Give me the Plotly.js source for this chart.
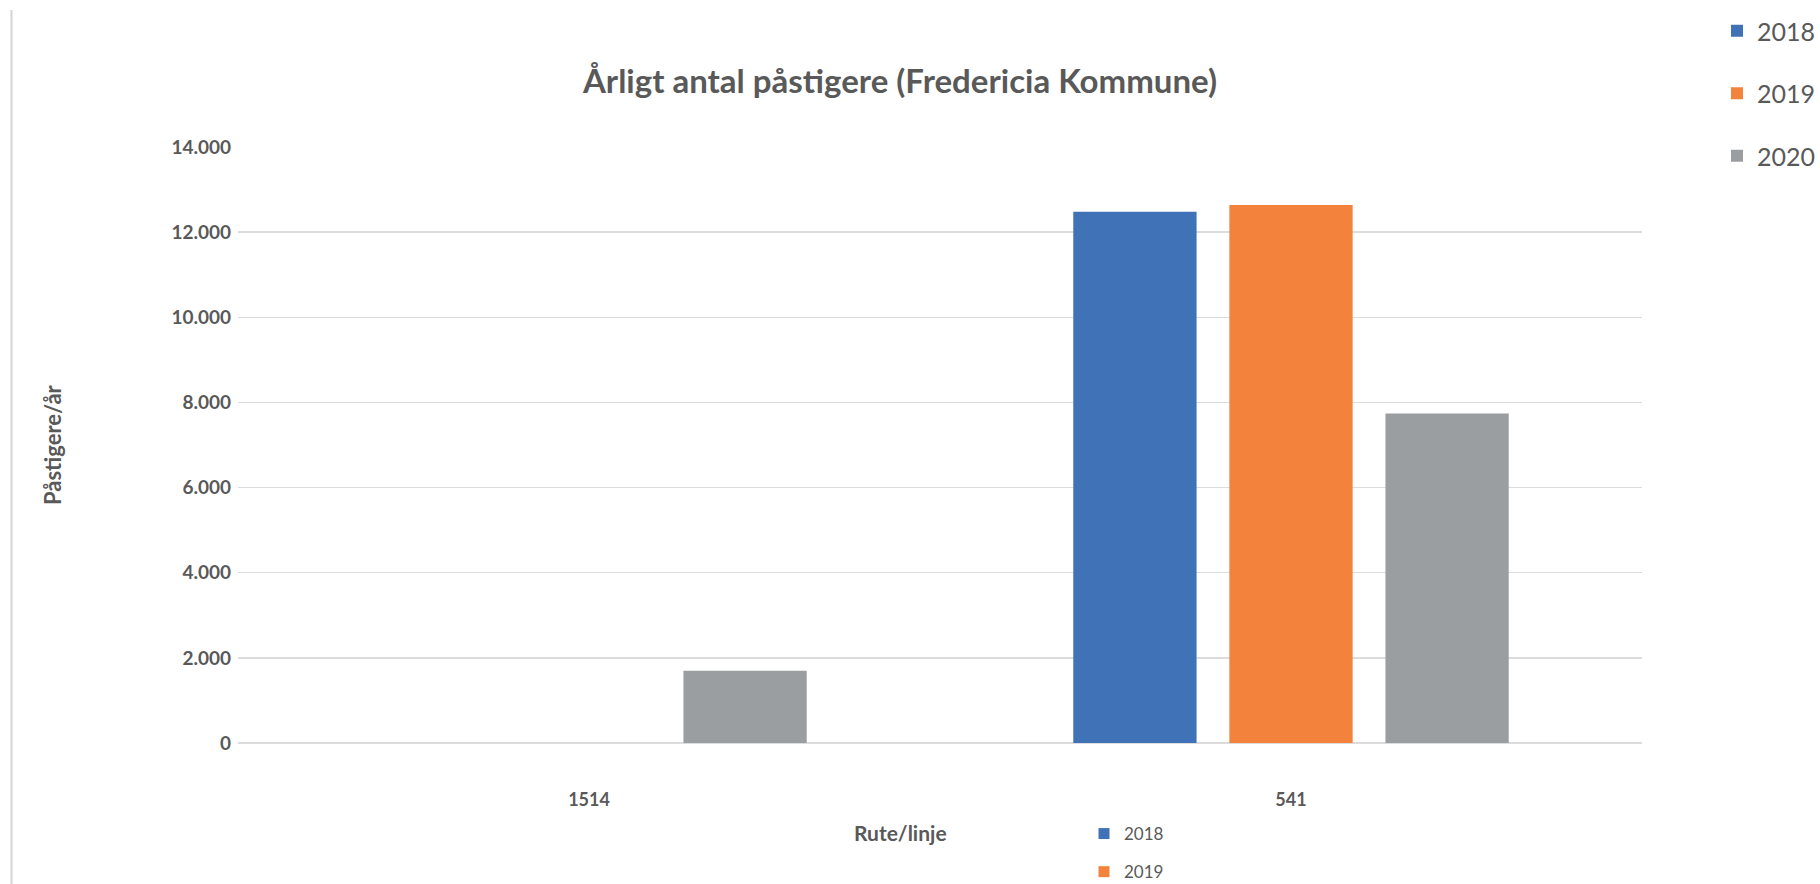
<!DOCTYPE html>
<html>
<head>
<meta charset="utf-8">
<script src="https://cdn.plot.ly/plotly-3.0.1.min.js"></script>
<style>html,body{margin:0;padding:0;background:#fff;}#chart{width:1820px;height:884px;}</style>
</head>
<body>
<div id="chart"></div>
<script>
const routes = ['1514', '541'];
const years = ['2018', '2019', '2020'];
const values2018 = [null, 12480];
const values2019 = [null, 12640];
const values2020 = [1700, 7740];
const colors = ['#4072b8', '#f2823c', '#9b9ea0'];
const seriesValues = [values2018, values2019, values2020];

const txt = '#595959';
const fontFam = 'Lato, "Open Sans", sans-serif';

const traces = years.map((yr, i) => ({
  type: 'bar',
  name: yr,
  x: routes,
  y: seriesValues[i],
  marker: {color: colors[i]},
  legendgroup: 'g' + yr,
  hoverinfo: 'x+y+name'
}));

// second (lower) legend, as seen in the picture: 2018 and 2019
const legend2Traces = years.slice(0, 2).map((yr, i) => ({
  type: 'scatter',
  mode: 'markers',
  name: yr,
  x: [null],
  y: [null],
  marker: {color: colors[i], symbol: 'square', size: 11},
  legend: 'legend2',
  legendgroup: 'h' + yr,
  hoverinfo: 'skip'
}));

const layout = {
  width: 1820,
  height: 884,
  paper_bgcolor: '#ffffff',
  plot_bgcolor: '#ffffff',
  separators: ',.',
  margin: {l: 238, r: 178, t: 147, b: 141, autoexpand: false},
  font: {family: fontFam, color: txt},
  title: {
    text: 'Årligt antal påstigere (Fredericia Kommune)',
    font: {family: fontFam, size: 33, color: txt, weight: 'bold'},
    x: 0.4945, xanchor: 'center', xref: 'container',
    y: 1 - 81 / 884, yanchor: 'middle', yref: 'container'
  },
  barmode: 'group',
  bargap: 0.333,
  bargroupgap: 0.21,
  xaxis: {
    type: 'category',
    showgrid: false,
    zeroline: false,
    showline: false,
    ticks: '',
    tickfont: {family: fontFam, size: 18, color: txt, weight: 'bold'},
    ticklabelstandoff: 44
  },
  yaxis: {
    range: [0, 14000],
    dtick: 2000,
    tickformat: ',d',
    showgrid: true,
    gridcolor: '#dcdcdc',
    gridwidth: 1.5,
    zeroline: true,
    zerolinecolor: '#dcdcdc',
    zerolinewidth: 1.5,
    showline: false,
    ticks: '',
    tickfont: {family: fontFam, size: 19, color: txt, weight: 'bold'},
    ticklabelstandoff: 6
  },
  showlegend: true,
  legend: {
    x: (1717 - 238) / 1404, xanchor: 'left',
    y: 1 - 8 / 884, yanchor: 'top', yref: 'container',
    font: {family: fontFam, size: 25, color: txt},
    traceorder: 'grouped',
    tracegroupgap: 27,
    bgcolor: 'rgba(0,0,0,0)',
    itemclick: false
  },
  legend2: {
    x: (1084 - 238) / 1404, xanchor: 'left',
    y: 1 - 816 / 884, yanchor: 'top', yref: 'container',
    font: {family: fontFam, size: 17, color: txt},
    traceorder: 'grouped',
    tracegroupgap: 13,
    bgcolor: 'rgba(0,0,0,0)',
    itemclick: false
  },
  annotations: [
    {
      text: 'Påstigere/år',
      xref: 'paper', yref: 'paper',
      x: (52 - 238) / 1404, y: 0.5,
      xanchor: 'center', yanchor: 'middle',
      textangle: -90, showarrow: false,
      font: {family: fontFam, size: 22, color: txt, weight: 'bold'}
    },
    {
      text: 'Rute/linje',
      xref: 'paper', yref: 'paper',
      x: (900 - 238) / 1404, y: (743 - 832) / 596,
      xanchor: 'center', yanchor: 'middle',
      showarrow: false,
      font: {family: fontFam, size: 21, color: txt, weight: 'bold'}
    }
  ],
  shapes: [
    {
      type: 'line', xref: 'paper', yref: 'paper',
      x0: (11.5 - 238) / 1404, x1: (11.5 - 238) / 1404,
      y0: (743 - 10) / 596, y1: -0.3,
      line: {color: '#d4d4d4', width: 2}
    }
  ]
};

Plotly.newPlot('chart', traces.concat(legend2Traces), layout, {displayModeBar: false, staticPlot: true});
</script>
</body>
</html>
